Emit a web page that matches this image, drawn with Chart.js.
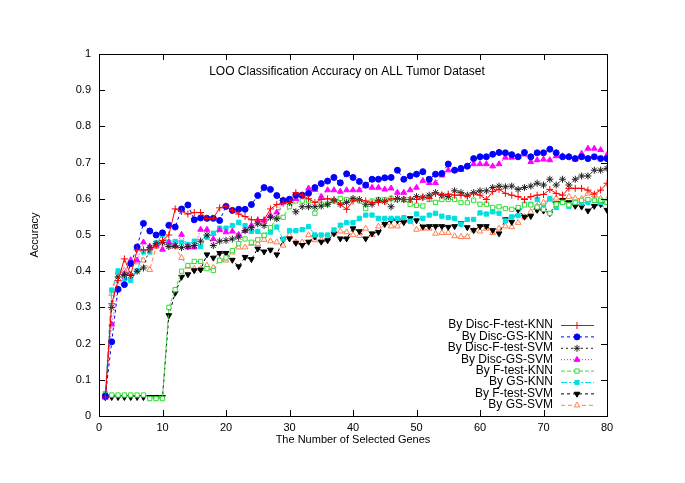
<!DOCTYPE html>
<html>
<head>
<meta charset="utf-8">
<script src="https://cdn.jsdelivr.net/npm/chart.js@4.4.0/dist/chart.umd.min.js"></script>
<style>
  html, body { margin: 0; padding: 0; background: #fff; }
  #wrap { width: 685px; height: 483px; }
</style>
</head>
<body>
<div id="wrap"><canvas id="accChart" width="685" height="483"></canvas></div>
<script>
const geneCounts = [1,2,3,4,5,6,7,8,9,10,11,12,13,14,15,16,17,18,19,20,
  21,22,23,24,25,26,27,28,29,30,31,32,33,34,35,36,37,38,39,40,
  41,42,43,44,45,46,47,48,49,50,51,52,53,54,55,56,57,58,59,60,
  61,62,63,64,65,66,67,68,69,70,71,72,73,74,75,76,77,78,79,80];

const seriesNames = ["By Disc-F-test-KNN", "By Disc-GS-KNN", "By Disc-F-test-SVM", "By Disc-GS-SVM",
  "By F-test-KNN", "By GS-KNN", "By F-test-SVM", "By GS-SVM"];

const discFtestKnn = [0.052,0.31,0.374,0.434,0.39,0.459,0.459,0.459,0.471,0.485,
  0.50,0.572,0.565,0.558,0.562,0.562,0.546,0.546,0.575,0.58,
  0.568,0.558,0.551,0.542,0.542,0.542,0.572,0.584,0.588,0.59,
  0.617,0.61,0.60,0.59,0.598,0.60,0.598,0.585,0.571,0.594,
  0.598,0.594,0.589,0.59,0.592,0.60,0.598,0.598,0.598,0.598,
  0.605,0.601,0.615,0.61,0.613,0.61,0.61,0.607,0.615,0.61,
  0.598,0.62,0.626,0.615,0.61,0.606,0.598,0.606,0.61,0.612,
  0.626,0.615,0.61,0.629,0.629,0.629,0.624,0.613,0.624,0.643];

const discGsKnn = [0.055,0.205,0.35,0.363,0.421,0.467,0.532,0.511,0.50,0.506,
  0.527,0.522,0.572,0.583,0.542,0.547,0.546,0.546,0.54,0.579,
  0.568,0.571,0.571,0.584,0.609,0.631,0.626,0.609,0.595,0.599,
  0.61,0.61,0.615,0.631,0.642,0.649,0.659,0.644,0.669,0.659,
  0.648,0.638,0.654,0.654,0.658,0.659,0.679,0.654,0.663,0.668,
  0.675,0.654,0.668,0.67,0.696,0.679,0.684,0.69,0.711,0.716,
  0.716,0.723,0.728,0.727,0.722,0.716,0.728,0.716,0.727,0.727,
  0.737,0.727,0.716,0.716,0.711,0.716,0.711,0.716,0.711,0.711];

const discFtestSvm = [0.052,0.30,0.384,0.39,0.388,0.40,0.409,0.466,0.476,0.48,
  0.468,0.47,0.465,0.468,0.471,0.483,0.50,0.471,0.483,0.485,
  0.489,0.494,0.512,0.52,0.531,0.526,0.549,0.545,0.596,0.59,
  0.564,0.578,0.578,0.578,0.58,0.585,0.596,0.585,0.59,0.601,
  0.598,0.585,0.585,0.596,0.593,0.578,0.601,0.598,0.598,0.606,
  0.604,0.61,0.617,0.61,0.606,0.622,0.617,0.61,0.617,0.622,
  0.622,0.631,0.635,0.633,0.635,0.626,0.631,0.635,0.643,0.638,
  0.654,0.638,0.654,0.638,0.654,0.663,0.663,0.679,0.679,0.684];

const discGsSvm = [0.052,0.253,0.351,0.393,0.431,0.43,0.48,0.468,0.471,0.46,
  0.48,0.47,0.501,0.466,0.466,0.515,0.515,0.489,0.514,0.508,
  0.51,0.501,0.512,0.526,0.54,0.54,0.554,0.563,0.59,0.594,
  0.60,0.607,0.629,0.625,0.606,0.624,0.624,0.62,0.624,0.624,
  0.624,0.635,0.631,0.631,0.626,0.629,0.617,0.617,0.624,0.631,
  0.65,0.644,0.644,0.665,0.679,0.679,0.68,0.69,0.696,0.696,
  0.696,0.69,0.696,0.714,0.714,0.716,0.723,0.702,0.707,0.709,
  0.707,0.718,0.718,0.716,0.709,0.725,0.739,0.739,0.735,0.721];

const ftestKnn = [0.058,0.058,0.058,0.058,0.058,0.058,0.058,0.048,0.048,0.048,
  0.30,0.349,0.40,0.416,0.427,0.427,0.407,0.402,0.43,0.437,
  0.457,0.476,0.489,0.48,0.487,0.499,0.52,0.547,0.549,0.578,
  0.594,0.594,0.594,0.56,0.585,0.585,0.594,0.601,0.598,0.598,
  0.594,0.573,0.594,0.598,0.598,0.601,0.598,0.598,0.585,0.582,
  0.58,0.598,0.59,0.598,0.598,0.598,0.59,0.589,0.596,0.585,
  0.585,0.576,0.578,0.573,0.571,0.576,0.583,0.583,0.577,0.571,
  0.56,0.585,0.59,0.583,0.59,0.596,0.598,0.596,0.596,0.59];

const gsKnn = [0.062,0.348,0.401,0.38,0.375,0.401,0.453,0.453,0.478,0.50,
  0.48,0.482,0.48,0.474,0.483,0.468,0.494,0.505,0.519,0.519,
  0.526,0.535,0.526,0.51,0.51,0.499,0.508,0.522,0.489,0.512,
  0.512,0.515,0.523,0.50,0.50,0.50,0.514,0.527,0.534,0.534,
  0.546,0.555,0.555,0.546,0.546,0.546,0.546,0.548,0.538,0.558,
  0.546,0.555,0.56,0.552,0.548,0.546,0.53,0.543,0.543,0.561,
  0.558,0.564,0.56,0.539,0.55,0.554,0.585,0.585,0.598,0.576,
  0.601,0.576,0.59,0.579,0.59,0.588,0.59,0.596,0.59,0.59];

const ftestSvm = [0.052,0.052,0.052,0.052,0.052,0.052,0.052,0.052,0.052,0.052,
  0.278,0.34,0.384,0.391,0.402,0.404,0.446,0.437,0.45,0.45,
  0.431,0.413,0.439,0.433,0.462,0.454,0.459,0.446,0.488,0.49,
  0.478,0.472,0.481,0.495,0.481,0.485,0.504,0.49,0.49,0.518,
  0.51,0.49,0.504,0.508,0.53,0.541,0.54,0.535,0.546,0.54,
  0.523,0.524,0.524,0.524,0.522,0.524,0.532,0.521,0.513,0.524,
  0.524,0.513,0.504,0.543,0.536,0.569,0.55,0.552,0.569,0.567,
  0.56,0.587,0.596,0.59,0.58,0.578,0.567,0.58,0.585,0.569];

const gsSvm = [0.052,0.338,0.397,0.402,0.42,0.425,0.43,0.404,0.468,0.477,
  0.471,0.468,0.437,0.413,0.407,0.407,0.416,0.41,0.431,0.43,
  0.452,0.466,0.466,0.476,0.476,0.487,0.483,0.48,0.471,0.50,
  0.48,0.48,0.50,0.486,0.486,0.49,0.504,0.51,0.508,0.50,
  0.498,0.518,0.50,0.524,0.534,0.524,0.524,0.539,0.54,0.515,
  0.518,0.518,0.504,0.506,0.506,0.497,0.495,0.495,0.513,0.51,
  0.518,0.506,0.518,0.524,0.522,0.534,0.55,0.564,0.58,0.59,
  0.598,0.601,0.596,0.606,0.601,0.60,0.615,0.61,0.601,0.596];

const xTicksMax = 80;
const yTicksMax = 1;

const FONT = "'Liberation Sans', Arial, Helvetica, sans-serif";

function pts(values) {
  return values.map((v, i) => ({ x: geneCounts[i], y: v }));
}

// styles for each series, gnuplot look
const styles = [
  { color: "#ff0000", dash: [], pointStyle: "cross", radius: 3.5, fill: "#ff0000" },
  { color: "#0000ff", dash: [3, 3], pointStyle: "circle", radius: 3, fill: "#0000ff" },
  { color: "#202020", dash: [2, 3], pointStyle: "star", radius: 3.5, fill: "#202020" },
  { color: "#ff00ff", dash: [1, 2], pointStyle: "triangle", radius: 3.3, fill: "#ff00ff" },
  { color: "#33dd33", dash: [4, 2], pointStyle: "rect", radius: 3, fill: "#ffffff" },
  { color: "#00e0e0", dash: [6, 2, 2, 2], pointStyle: "rect", radius: 3, fill: "#00e0e0" },
  { color: "#000000", dash: [3, 3], pointStyle: "triangle", radius: 3.3, fill: "#000000", rotation: 180 },
  { color: "#ff7f50", dash: [4, 3], pointStyle: "triangle", radius: 3.3, fill: "#ffffff" }
];

const allSeries = [discFtestKnn, discGsKnn, discFtestSvm, discGsSvm, ftestKnn, gsKnn, ftestSvm, gsSvm];

const datasets = allSeries.map((vals, k) => ({
  label: seriesNames[k],
  data: pts(vals),
  borderColor: styles[k].color,
  borderWidth: 1,
  borderDash: styles[k].dash,
  pointStyle: styles[k].pointStyle,
  pointRadius: styles[k].radius,
  pointRotation: styles[k].rotation || 0,
  pointBackgroundColor: styles[k].fill,
  pointBorderColor: styles[k].color,
  pointBorderWidth: 1,
  fill: false,
  tension: 0
}));

// frame, inward ticks, title and legend drawn inside the plot like gnuplot
const gnuplotLook = {
  id: "gnuplotLook",
  afterDatasetsDraw(chart) {
    const ctx = chart.ctx;
    const a = chart.chartArea;
    const xs = chart.scales.x, ys = chart.scales.y;
    ctx.save();
    ctx.strokeStyle = "#000";
    ctx.lineWidth = 1;
    ctx.setLineDash([]);
    ctx.strokeRect(Math.round(a.left) + 0.5, Math.round(a.top) + 0.5,
      Math.round(a.right - a.left), Math.round(a.bottom - a.top));
    const tl = 6;
    ctx.beginPath();
    xs.ticks.forEach(t => {
      const px = Math.round(xs.getPixelForValue(t.value)) + 0.5;
      ctx.moveTo(px, a.bottom); ctx.lineTo(px, a.bottom - tl);
      ctx.moveTo(px, a.top); ctx.lineTo(px, a.top + tl);
    });
    ys.ticks.forEach(t => {
      const py = Math.round(ys.getPixelForValue(t.value)) + 0.5;
      ctx.moveTo(a.left, py); ctx.lineTo(a.left + tl, py);
      ctx.moveTo(a.right, py); ctx.lineTo(a.right - tl, py);
    });
    ctx.stroke();

    ctx.fillStyle = "#000";
    ctx.font = "12px " + FONT;
    ctx.textAlign = "center";
    ctx.textBaseline = "middle";
    ctx.fillText("LOO Classification Accuracy on ALL Tumor Dataset", 347, a.top + 18);

    // legend
    const textRight = 553, lineL = 561, lineR = 594, markX = 577;
    chart.data.datasets.forEach((ds, k) => {
      const y = 325 + k * 11.4;
      ctx.fillStyle = "#000";
      ctx.font = "12px " + FONT;
      ctx.textAlign = "right";
      ctx.fillText(ds.label, textRight, y);
      ctx.strokeStyle = ds.borderColor;
      ctx.setLineDash(ds.borderDash);
      ctx.beginPath();
      ctx.moveTo(lineL, y + 0.5); ctx.lineTo(lineR, y + 0.5);
      ctx.stroke();
      ctx.setLineDash([]);
      ctx.fillStyle = ds.pointBackgroundColor;
      ctx.strokeStyle = ds.pointBorderColor;
      Chart.helpers.drawPoint(ctx, {
        pointStyle: ds.pointStyle, radius: ds.pointRadius,
        rotation: ds.pointRotation, borderWidth: 1
      }, markX, y + 0.5);
    });
    ctx.restore();
  }
};

new Chart(document.getElementById("accChart").getContext("2d"), {
  type: "line",
  data: { datasets: datasets },
  plugins: [gnuplotLook],
  options: {
    responsive: false,
    animation: false,
    devicePixelRatio: 1,
    layout: { padding: { left: 28, right: 78, top: 54, bottom: 34 } },
    plugins: { legend: { display: false }, tooltip: { enabled: false } },
    scales: {
      x: {
        type: "linear", min: 0, max: xTicksMax,
        ticks: { stepSize: 10, color: "#000", font: { family: FONT, size: 11 }, padding: 5, maxRotation: 0 },
        grid: { display: false, drawTicks: false }, border: { display: false },
        title: { display: true, text: "The Number of Selected Genes", color: "#000",
          font: { family: FONT, size: 11 }, padding: { top: 2, bottom: 2 } },
        afterFit(s) { s.height = 33; }
      },
      y: {
        min: 0, max: yTicksMax,
        ticks: { stepSize: 0.1, color: "#000", font: { family: FONT, size: 11 }, padding: 8,
          callback: v => String(+v.toFixed(1)) },
        grid: { display: false, drawTicks: false }, border: { display: false },
        title: { display: true, text: "Accuracy", color: "#000",
          font: { family: FONT, size: 11 }, padding: { top: 0, bottom: 0 } },
        afterFit(s) { s.width = 71; }
      }
    }
  }
});
</script>
</body>
</html>
